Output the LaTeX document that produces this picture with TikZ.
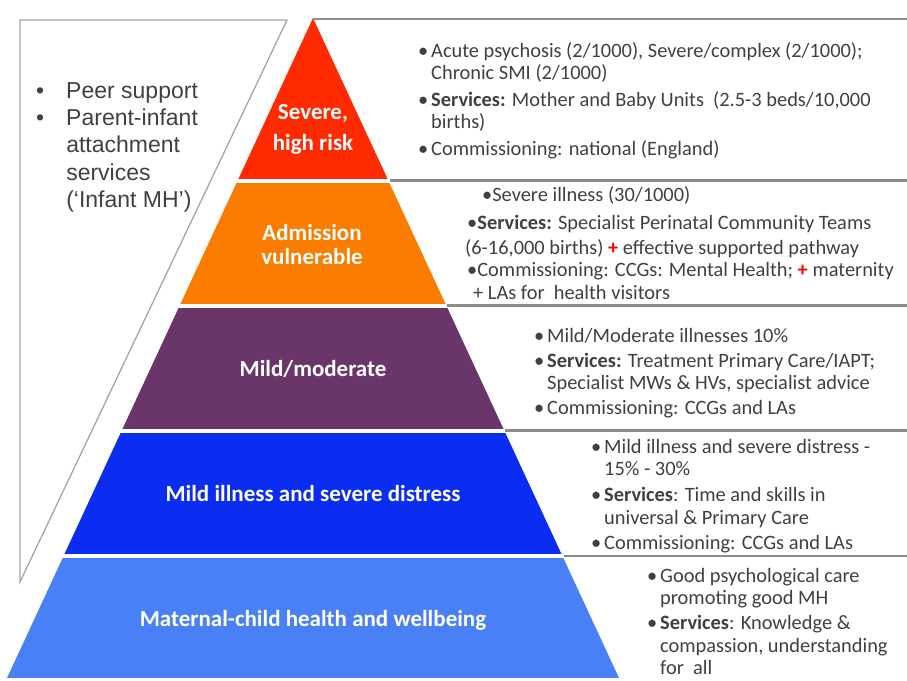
\documentclass[tikz,border=0pt]{standalone}
\usepackage{fontspec}
\setmainfont{Carlito}
\newfontfamily\arialfont{Liberation Sans}
\usetikzlibrary{positioning}

\definecolor{sevred}{RGB}{255,42,0}
\definecolor{admorange}{RGB}{250,125,0}
\definecolor{mildpurple}{RGB}{106,53,104}
\definecolor{distblue}{RGB}{11,45,242}
\definecolor{wellblue}{RGB}{74,128,245}
\definecolor{txtgray}{RGB}{64,64,64}
\definecolor{linegray}{RGB}{140,140,140}
\definecolor{panelgray}{RGB}{165,165,165}

\newcommand{\bul}{\makebox[13pt][l]{\textbullet}}
\newcommand{\ind}{\hspace*{13pt}}
\newcommand{\redplus}{\textcolor{red}{\textbf{+}}}

\tikzset{
  level/.style={text=white, font=\fontsize{23}{24}\selectfont\bfseries, align=center},
  info/.style={anchor=base west, inner sep=0pt, text=txtgray, font=\fontsize{20.4}{22.5}\selectfont},
  sep/.style={linegray, line width=2.4pt},
}

\begin{document}
\begin{tikzpicture}[x=1pt, y=-1pt]
	\useasboundingbox (0, 0) rectangle (907, 680);
	% left box
	\draw [panelgray, line width=1.3pt] (20, 20) -- (287, 20) -- (20, 582) -- cycle;
	\node [anchor=base west, inner sep=0pt, text=txtgray, font=\arialfont\fontsize{23}{27.4}\selectfont] (peer) at (36, 98) {%
		\begin{tabular}[t]{@{}l@{\hspace{22pt}}l@{}}
			\textbullet & Peer support\\
			\textbullet & Parent-infant\\
			& attachment\\
			& services\\
			& (‘Infant MH’)
		\end{tabular}};
	% pyramid
	\begin{scope}
		\clip (313, 18) -- (619, 678) -- (7, 678) -- cycle;
		\fill [sevred] (0, 0) rectangle (907, 178.5);
		\fill [admorange] (0, 182.5) rectangle (907, 303.5);
		\fill [mildpurple] (0, 307.5) rectangle (907, 428.5);
		\fill [distblue] (0, 432.5) rectangle (907, 554);
		\fill [wellblue] (0, 558) rectangle (907, 678);
	\end{scope}
	\node [level] (severe) at (313, 129) {Severe,\\[7pt]high risk};
	\node [level] (admission) at (312, 245) {Admission\\vulnerable};
	\node [level] (mild) at (313, 369) {Mild/moderate};
	\node [level] (distress) at (313, 494) {Mild illness and severe distress};
	\node [level] (wellbeing) at (313, 620) {Maternal-child health and wellbeing};
	% lines right
	\draw [sep] (313, 19) -- (907, 19);
	\draw [sep] (390, 180.5) -- (907, 180.5);
	\draw [sep] (447, 305.5) -- (907, 305.5);
	\draw [sep] (505, 430.5) -- (907, 430.5);
	\draw [sep] (564, 556) -- (907, 556);
	% texts right
	\node [info] (severetxt) at (418, 57) {%
		\begin{tabular}[t]{@{}l@{}}
			\bul Acute psychosis (2/1000), Severe/complex (2/1000);\\
			\ind Chronic SMI (2/1000)\\[4pt]
			\bul \textbf{Services:} Mother and Baby Units~ (2.5-3 beds/10,000\\
			\ind births)\\[4pt]
			\bul Commissioning: national (England)
		\end{tabular}};
	\node [info] (admtxt) at (465, 201) {%
		\begin{tabular}[t]{@{}l@{}}
			\hspace*{17pt}\textbullet Severe illness (30/1000)\\[5.5pt]
			\hspace*{2pt}\textbullet\textbf{Services:} Specialist Perinatal Community Teams\\[2.5pt]
			(6-16,000 births) \redplus{} effective supported pathway\\
			\hspace*{2pt}\textbullet Commissioning: CCGs: Mental Health; \redplus{} maternity\\[0.5pt]
			\hspace*{8pt}+ LAs for~ health visitors
		\end{tabular}};
	\node [info] (mildtxt) at (534, 342) {%
		\begin{tabular}[t]{@{}l@{}}
			\bul Mild/Moderate illnesses 10\%\\[2.5pt]
			\bul \textbf{Services:} Treatment Primary Care/IAPT;\\
			\ind Specialist MWs \& HVs, specialist advice\\[2.5pt]
			\bul Commissioning: CCGs and LAs
		\end{tabular}};
	\node [info] (distxt) at (591, 453) {%
		\begin{tabular}[t]{@{}l@{}}
			\bul Mild illness and severe distress -\\
			\ind 15\% - 30\%\\[3.5pt]
			\bul \textbf{Services}: Time and skills in\\
			\ind universal \& Primary Care\\[2.5pt]
			\bul Commissioning: CCGs and LAs
		\end{tabular}};
	\node [info] (welltxt) at (647, 582) {%
		\begin{tabular}[t]{@{}l@{}}
			\bul Good psychological care\\
			\ind promoting good MH\\[2.5pt]
			\bul \textbf{Services}: Knowledge \&\\
			\ind compassion, understanding\\
			\ind for~ all
		\end{tabular}};
\end{tikzpicture}
\end{document}
